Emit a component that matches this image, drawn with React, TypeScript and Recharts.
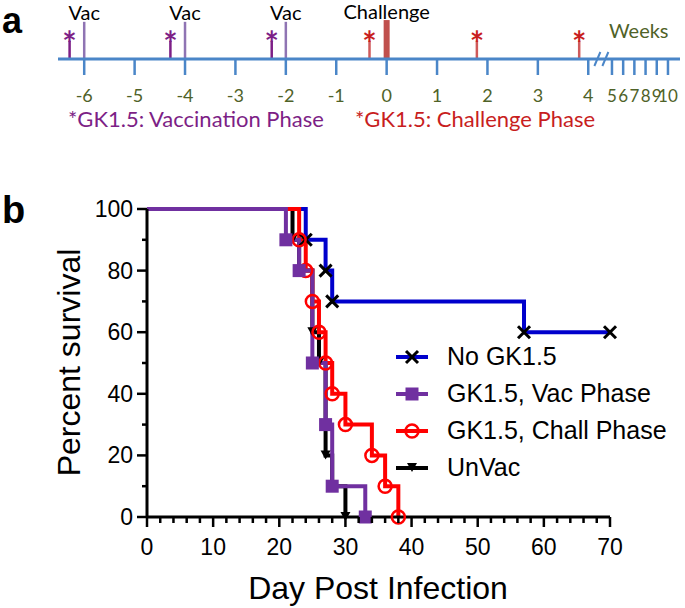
import React from 'react'
import { ComposedChart, LineChart, Line, Scatter, XAxis, YAxis, ReferenceLine, Legend } from 'recharts'

// panel a: study timeline, in weeks relative to challenge
const weekTicks = [-6, -5, -4, -3, -2, -1, 0, 1, 2, 3, 4, 5, 6, 7, 8, 9, 10]
const vacWeeks = [-6, -4, -2]
const challengeWeeks = [0]
const vacDoseWeeks = [-6.29, -4.29, -2.28]
const challDoseWeeks = [-0.34, 1.79, 3.82]

// panel b: survival after infection
const noGkDays = [0, 24, 27, 28, 57, 70]
const noGkSurv = [100, 90, 80, 70, 60, 60]
const vacPhaseDays = [0, 21, 23, 25, 27, 28, 33]
const vacPhaseSurv = [100, 90, 80, 50, 30, 10, 0]
const challPhaseDays = [0, 23, 24, 25, 26, 27, 28, 30, 34, 36, 38]
const challPhaseSurv = [100, 90, 80, 70, 60, 50, 40, 30, 20, 10, 0]
const unvacDays = [0, 22, 23, 25, 26, 27, 28, 30]
const unvacSurv = [100, 90, 80, 60, 50, 20, 10, 0]

const dayTicks = Array.from({ length: 36 }, (_, i) => i * 2)
const survTicks = [0, 10, 20, 30, 40, 50, 60, 70, 80, 90, 100]

const BLUE = '#0000cc'
const PURPLE = '#7030a0'
const RED = '#ff0000'
const AXIS_BLUE = '#4a86c8'
const OLIVE = '#4f6228'
const DOSE_PURPLE = '#7d1f86'
const DOSE_RED = '#c81e1e'
const ARIAL = '"Liberation Sans", Arial, sans-serif'
const CAL = 'Lato, "Open Sans", sans-serif'

// weeks past 4 are squeezed after the axis break
const pos = (w: number) => (w <= 4 ? w : 4 + (23.7 + (w - 5) * 11.2) / 50.4)
const BREAK_POS = 4.26

const toRows = (days: number[], surv: number[]) => days.map((d, i) => ({ day: d, surv: surv[i] }))

function Marker({ kind, cx, cy }: { kind: string; cx: number; cy: number }) {
  if (kind === 'x')
    return (
      <g stroke="#000" strokeWidth={3}>
        <line x1={cx - 6} y1={cy - 6} x2={cx + 6} y2={cy + 6} />
        <line x1={cx - 6} y1={cy + 6} x2={cx + 6} y2={cy - 6} />
      </g>
    )
  if (kind === 'square') return <rect x={cx - 6.5} y={cy - 6.5} width={13} height={13} fill={PURPLE} />
  if (kind === 'circle') return <circle cx={cx} cy={cy} r={6.5} fill="none" stroke={RED} strokeWidth={2.5} />
  return <polygon points={`${cx - 5},${cy - 5} ${cx + 5},${cy - 5} ${cx},${cy + 4}`} fill="#000" />
}

const dotFor = (kind: string) => (p: any) =>
  p.index === 0 ? <g key={`d${p.index}`} /> : <g key={`d${p.index}`}><Marker kind={kind} cx={p.cx} cy={p.cy} /></g>

const legendItems = [
  { name: 'No GK1.5', color: BLUE, kind: 'x' },
  { name: 'GK1.5, Vac Phase', color: PURPLE, kind: 'square' },
  { name: 'GK1.5, Chall Phase', color: RED, kind: 'circle' },
  { name: 'UnVac', color: '#000', kind: 'tri' },
]

function SurvivalLegend() {
  return (
    <div>
      {legendItems.map((it) => (
        <div key={it.name} style={{ display: 'flex', alignItems: 'center', height: 37 }}>
          <svg width={34} height={20}>
            <line x1={0} x2={32} y1={10} y2={10} stroke={it.color} strokeWidth={4} />
            <Marker kind={it.kind} cx={16} cy={10} />
          </svg>
          <span style={{ marginLeft: 17, fontFamily: ARIAL, fontSize: 25, lineHeight: '37px', color: '#000' }}>{it.name}</span>
        </div>
      ))}
    </div>
  )
}

function WeekTick({ x, y, index }: any) {
  const v = weekTicks[index]
  return (
    <text x={x} y={y + 25} textAnchor="middle" fontFamily={CAL} fontSize={v > 4 ? 17 : 18} fill={OLIVE}>
      {v}
    </text>
  )
}

function DayTick({ x, y, payload }: any) {
  const major = payload.value % 10 === 0
  return (
    <g>
      <line x1={x} x2={x} y1={y} y2={y + (major ? 10 : 6)} stroke="#000" strokeWidth={2.5} />
      {major && (
        <text x={x} y={y + 38} textAnchor="middle" fontFamily={ARIAL} fontSize={23} fill="#000">
          {payload.value}
        </text>
      )}
    </g>
  )
}

function SurvTick({ x, y, payload }: any) {
  const major = payload.value % 20 === 0
  return (
    <g>
      <line x1={x - (major ? 10 : 5)} x2={x} y1={y} y2={y} stroke="#000" strokeWidth={2.5} />
      {major && (
        <text x={x - 14} y={y + 8} textAnchor="end" fontFamily={ARIAL} fontSize={23} fill="#000">
          {payload.value}
        </text>
      )}
    </g>
  )
}

const label = (txt: string, size: number) => (p: any) => (
  <text x={p.cx} y={p.cy} textAnchor="middle" fontFamily={CAL} fontSize={size} fill="#000">
    {txt}
  </text>
)

const asterisk = (color: string) => (p: any) => (
  <text x={p.cx} y={p.cy} textAnchor="middle" fontFamily={CAL} fontSize={34} fontWeight={700} fill={color}>
    *
  </text>
)

const breakMark = (p: any) => (
  <g stroke={AXIS_BLUE} strokeWidth={2}>
    <line x1={p.cx - 7} y1={p.cy + 7} x2={p.cx - 1} y2={p.cy - 7} />
    <line x1={p.cx + 1} y1={p.cy + 7} x2={p.cx + 7} y2={p.cy - 7} />
  </g>
)

export default function App() {
  return (
    <div style={{ position: 'relative', width: 685, height: 608, background: '#fff', overflow: 'hidden' }}>
      <style>{'body{margin:0}'}</style>

      <div style={{ position: 'absolute', left: 0, top: 0 }}>
        <ComposedChart width={685} height={130} margin={{ top: 0, right: 5, bottom: 0, left: 58 }}>
          <XAxis
            dataKey="x"
            type="number"
            domain={[-6.52, 5.82]}
            ticks={weekTicks.map(pos)}
            interval={0}
            height={71}
            tickSize={16}
            axisLine={{ stroke: AXIS_BLUE, strokeWidth: 3 }}
            tickLine={{ stroke: AXIS_BLUE, strokeWidth: 2.5 }}
            tick={<WeekTick />}
          />
          <YAxis dataKey="y" type="number" domain={[0, 1]} hide />
          {vacWeeks.map((w) => (
            <ReferenceLine key={`v${w}`} segment={[{ x: pos(w), y: 0 }, { x: pos(w), y: 0.63 }]} stroke="#8f74b3" strokeWidth={2.5} />
          ))}
          {challengeWeeks.map((w) => (
            <ReferenceLine key={`c${w}`} segment={[{ x: pos(w), y: 0 }, { x: pos(w), y: 0.66 }]} stroke="#c0504d" strokeWidth={6} />
          ))}
          {vacDoseWeeks.map((w) => (
            <ReferenceLine key={`vd${w}`} segment={[{ x: pos(w), y: 0 }, { x: pos(w), y: 0.31 }]} stroke={DOSE_PURPLE} strokeWidth={2.5} />
          ))}
          {challDoseWeeks.map((w) => (
            <ReferenceLine key={`cd${w}`} segment={[{ x: pos(w), y: 0 }, { x: pos(w), y: 0.31 }]} stroke="#cf5a5a" strokeWidth={2.5} />
          ))}
          <Scatter data={vacWeeks.map((w) => ({ x: pos(w), y: 0.661 }))} shape={label('Vac', 20)} isAnimationActive={false} />
          <Scatter data={challengeWeeks.map((w) => ({ x: pos(w), y: 0.678 }))} shape={label('Challenge', 20)} isAnimationActive={false} />
          <Scatter data={vacDoseWeeks.map((w) => ({ x: pos(w), y: 0.046 }))} shape={asterisk(DOSE_PURPLE)} isAnimationActive={false} />
          <Scatter data={challDoseWeeks.map((w) => ({ x: pos(w), y: 0.046 }))} shape={asterisk(DOSE_RED)} isAnimationActive={false} />
          <Scatter data={[{ x: BREAK_POS, y: 0 }]} shape={breakMark} isAnimationActive={false} />
        </ComposedChart>
      </div>

      <div style={{ position: 'absolute', left: 0, top: 180 }}>
        <LineChart width={685} height={428} margin={{ top: 29, right: 75, bottom: 0, left: 0 }}>
          <XAxis
            dataKey="day"
            type="number"
            domain={[0, 70]}
            ticks={dayTicks}
            interval={0}
            height={91}
            tickSize={0}
            tickMargin={0}
            tickLine={false}
            axisLine={{ stroke: '#000', strokeWidth: 3 }}
            tick={<DayTick />}
          />
          <YAxis
            type="number"
            domain={[0, 100]}
            ticks={survTicks}
            interval={0}
            width={147}
            tickSize={0}
            tickMargin={0}
            tickLine={false}
            axisLine={{ stroke: '#000', strokeWidth: 3 }}
            tick={<SurvTick />}
          />
          <Legend
            content={() => <SurvivalLegend />}
            layout="horizontal"
            verticalAlign="middle"
            align="center"
            wrapperStyle={{ position: 'absolute', left: 396, top: 158, width: 289 }}
          />
          <Line data={toRows(unvacDays, unvacSurv)} dataKey="surv" type="stepAfter" stroke="#000" strokeWidth={4} dot={dotFor('tri')} isAnimationActive={false} />
          <Line data={toRows(noGkDays, noGkSurv)} dataKey="surv" type="stepAfter" stroke={BLUE} strokeWidth={4} dot={dotFor('x')} isAnimationActive={false} />
          <Line data={toRows(challPhaseDays, challPhaseSurv)} dataKey="surv" type="stepAfter" stroke={RED} strokeWidth={4} dot={dotFor('circle')} isAnimationActive={false} />
          <Line data={toRows(vacPhaseDays, vacPhaseSurv)} dataKey="surv" type="stepAfter" stroke={PURPLE} strokeWidth={4} dot={dotFor('square')} isAnimationActive={false} />
        </LineChart>
      </div>

      <svg width={685} height={608} style={{ position: 'absolute', left: 0, top: 0, pointerEvents: 'none' }}>
        <text x={2} y={33} fontFamily={ARIAL} fontWeight={700} fontSize={36}>a</text>
        <text x={2} y={223} fontFamily={ARIAL} fontWeight={700} fontSize={38}>b</text>
        <text x={68} y={127} fontFamily={CAL} fontSize={22} fill={DOSE_PURPLE}>*GK1.5: Vaccination Phase</text>
        <text x={355} y={127} fontFamily={CAL} fontSize={22} fill={DOSE_RED}>*GK1.5: Challenge Phase</text>
        <text x={609} y={38} fontFamily={CAL} fontSize={20} fill={OLIVE}>Weeks</text>
        <text x={378} y={599} textAnchor="middle" fontFamily={ARIAL} fontSize={32}>Day Post Infection</text>
        <text transform="translate(80 362.5) rotate(-90)" textAnchor="middle" fontFamily={ARIAL} fontSize={32}>Percent survival</text>
      </svg>
    </div>
  )
}
